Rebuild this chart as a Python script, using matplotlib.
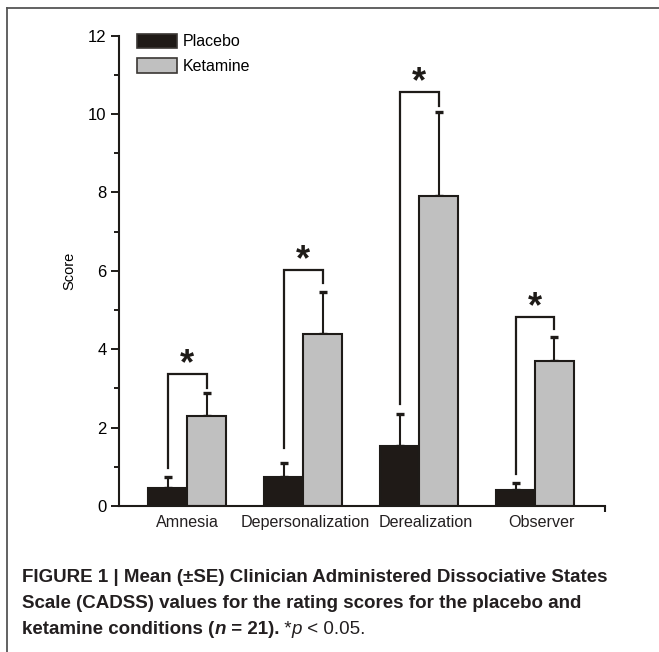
import matplotlib
matplotlib.use("Agg")
import matplotlib.pyplot as plt
from matplotlib.lines import Line2D
from matplotlib.patches import Patch
from matplotlib.ticker import FixedLocator, MultipleLocator
from matplotlib.transforms import ScaledTranslation
import numpy as np

categories = ["Amnesia", "Depersonalization", "Derealization", "Observer"]
placebo = [0.45, 0.73, 1.53, 0.41]
placebo_se = [0.30, 0.37, 0.83, 0.18]
ketamine = [2.30, 4.38, 7.91, 3.71]
ketamine_se = [0.58, 1.07, 2.15, 0.59]
bracket_top = [3.36, 6.02, 10.56, 4.81]
placebo_leg_start = [0.96, 1.49, 2.60, 0.82]
ketamine_leg_start = [3.00, 5.70, 10.21, 4.51]
yticks = [0, 2, 4, 6, 8, 10, 12]
label_shift_px = [0, 2, 7, 7]

plt.rcParams["font.family"] = ["Liberation Sans", "DejaVu Sans"]
W, H = 659, 652
fig = plt.figure(figsize=(W / 100, H / 100), dpi=100)
ax = fig.add_axes([119 / W, (H - 506) / H, (605 - 119) / W, (506 - 35.7) / H])

x = np.arange(len(categories))
bw = 0.336
edge = "#1e1b18"
ax.bar(x - bw / 2, placebo, bw, color="#1f1a17", edgecolor=edge, linewidth=1.5, zorder=2)
ax.bar(x + bw / 2, ketamine, bw, color="#c0c0c0", edgecolor=edge, linewidth=1.5, zorder=2)
ax.errorbar(x - bw / 2, placebo, yerr=[np.zeros(4), placebo_se], fmt="none",
            ecolor=edge, elinewidth=1.5, capsize=2.8, capthick=2.4, zorder=1)
ax.errorbar(x + bw / 2, ketamine, yerr=[np.zeros(4), ketamine_se], fmt="none",
            ecolor=edge, elinewidth=1.5, capsize=2.8, capthick=2.4, zorder=1)

for i in range(len(categories)):
    xp, xk = x[i] - bw / 2, x[i] + bw / 2
    ax.plot([xp, xp, xk, xk],
            [placebo_leg_start[i], bracket_top[i], bracket_top[i], ketamine_leg_start[i]],
            color=edge, lw=1.6, solid_joinstyle="miter", zorder=3)
    ax.text(x[i], bracket_top[i] + 0.0, "*", ha="center", va="baseline",
            fontsize=26, fontweight="bold", color=edge)

ax.set_xlim(-0.589, 3.604)
ax.set_ylim(0, 12)
for s in ["top", "right"]:
    ax.spines[s].set_visible(False)
for s in ["left", "bottom"]:
    ax.spines[s].set_linewidth(1.5)
    ax.spines[s].set_color(edge)
ax.set_yticks(yticks)
ax.yaxis.set_minor_locator(MultipleLocator(1))
ax.tick_params(axis="y", which="major", length=6, width=1.4, labelsize=12, pad=3, color=edge)
ax.tick_params(axis="y", which="minor", length=3.5, width=1.4, color=edge)
ax.set_xticks(x)
ax.set_xticklabels([])
ax.tick_params(axis="x", which="major", length=0)
for i, c in enumerate(categories):
    tr = ax.get_xaxis_transform() + ScaledTranslation(label_shift_px[i] / 100, -9 / 100, fig.dpi_scale_trans)
    ax.text(x[i], 0, c, transform=tr, ha="center", va="top", fontsize=11.6, color="#231f20")
ax.xaxis.set_minor_locator(FixedLocator([3.604]))
ax.tick_params(axis="x", which="minor", length=4, width=1.5, direction="out", color=edge)
ax.set_ylabel("Score", fontsize=10.5, labelpad=8)

leg = ax.legend(handles=[Patch(facecolor="#1f1a17", edgecolor="#3a3633", linewidth=1.2, label="Placebo"),
                         Patch(facecolor="#c0c0c0", edgecolor="#3a3633", linewidth=1.2, label="Ketamine")],
                loc="upper left", bbox_to_anchor=(0.008, 1.035), frameon=False, fontsize=11.5,
                handlelength=2.5, handleheight=1.05, handletextpad=0.35, labelspacing=0.55)

# frame around figure
fig.add_artist(Line2D([7 / W, 1.0], [1 - 8 / H, 1 - 8 / H], color="#555555", lw=1.3))
fig.add_artist(Line2D([7 / W, 7 / W], [0, 1 - 8 / H], color="#555555", lw=1.3))

cap_color = "#231f20"
cfs = 13.5
fig.text(22 / W, 1 - 578 / H, "FIGURE 1 | Mean (\u00b1SE) Clinician Administered Dissociative States",
         fontsize=cfs, fontweight="bold", color=cap_color, va="center")
fig.text(22 / W, 1 - 604 / H, "Scale (CADSS) values for the rating scores for the placebo and",
         fontsize=cfs, fontweight="bold", color=cap_color, va="center")

fig.canvas.draw()
r = fig.canvas.get_renderer()
pieces = [("ketamine conditions (", "bold", "normal"), ("n", "bold", "italic"),
          (" = 21).", "bold", "normal"), (" *", "normal", "normal"),
          ("p", "normal", "italic"), (" < 0.05.", "normal", "normal")]
xpos = 22
for txt, wt, st in pieces:
    t = fig.text(xpos / W, 1 - 630 / H, txt, fontsize=cfs, fontweight=wt, fontstyle=st,
                 color=cap_color, va="center")
    bb = t.get_window_extent(renderer=r)
    xpos += bb.width

fig.savefig("out.png", dpi=100)
